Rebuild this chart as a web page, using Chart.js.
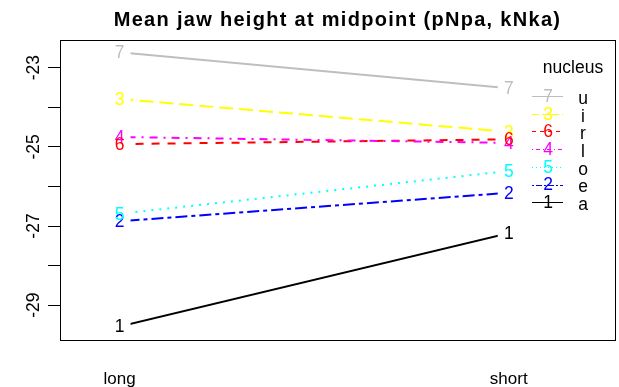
<!DOCTYPE html>
<html>
<head>
<meta charset="utf-8">
<script src="https://cdn.jsdelivr.net/npm/chart.js@4/dist/chart.umd.min.js"></script>
<style>
  html, body { margin: 0; padding: 0; background: #fff; }
  #wrap { width: 619px; height: 387px; }
</style>
</head>
<body>
<div id="wrap"><canvas id="c" width="619" height="387"></canvas></div>
<script>
// Trace factor levels and x-factor levels
const nuclei = ['a', 'e', 'i', 'l', 'o', 'r', 'u'];
const durations = ['long', 'short'];

// Mean jaw height per nucleus, for each duration
const longMeans  = [-29.54, -26.88, -23.79, -24.75, -26.69, -24.93, -22.61];
const shortMeans = [-27.18, -26.16, -24.62, -24.90, -25.61, -24.81, -23.52];

// Y axis ticks: a mark at every integer, a label at every other one
const yTickValues = [-29, -28, -27, -26, -25, -24, -23];
const yTickLabels = ['-29', '', '-27', '', '-25', '', '-23'];

const titleText = 'Mean jaw height at midpoint (pNpa, kNka)';
const legendTitle = 'nucleus';

// Styles (R-like palette 1..7 and line types)
const seriesColors = ['#000000', '#0000ff', '#ffff00', '#ff00ff', '#00ffff', '#ff0000', '#bebebe'];
const seriesDash   = [[], [4, 4, 12, 4], [14, 6], [2, 6, 8, 6], [2, 6], [8, 8], []];
const legendDash   = [[], [2, 2, 6, 2], [7, 3], [1, 3, 4, 3], [1, 3], [4, 4], []];
const FONT = '"Liberation Sans", Arial, Helvetica, sans-serif';

const datasets = nuclei.map((n, i) => ({
  label: n,
  data: durations.map((d, j) => ({ x: j + 1, y: (j === 0 ? longMeans : shortMeans)[i] })),
  borderColor: seriesColors[i],
  backgroundColor: seriesColors[i],
  borderWidth: 2,
  borderDash: seriesDash[i],
  pointRadius: 0,
  tension: 0,
  fill: false
}));

// Leave a small gap between each line and the digits at its ends
const gapPlugin = {
  id: 'gap',
  beforeDatasetDraw(chart) {
    const xs = chart.scales.x;
    const a = xs.getPixelForValue(1) + 11;
    const b = xs.getPixelForValue(2) - 11;
    const ctx = chart.ctx;
    ctx.save();
    ctx.beginPath();
    ctx.rect(a, chart.chartArea.top, b - a, chart.chartArea.bottom - chart.chartArea.top);
    ctx.clip();
  },
  afterDatasetDraw(chart) {
    chart.ctx.restore();
  }
};

// Digits marking each point, box, title, y labels and legend
const decorPlugin = {
  id: 'decor',
  afterDatasetsDraw(chart) {
    const ctx = chart.ctx;
    ctx.save();
    ctx.font = '17.5px ' + FONT;
    ctx.textAlign = 'center';
    ctx.textBaseline = 'middle';
    chart.data.datasets.forEach((ds, i) => {
      const meta = chart.getDatasetMeta(i);
      ctx.fillStyle = seriesColors[i];
      meta.data.forEach(pt => {
        ctx.fillText(String(i + 1), pt.x, pt.y + 1);
      });
    });
    ctx.restore();
  },
  afterDraw(chart) {
    const ctx = chart.ctx;
    const area = chart.chartArea;
    ctx.save();
    // plot box
    ctx.strokeStyle = '#000';
    ctx.lineWidth = 1;
    ctx.strokeRect(Math.round(area.left) + 0.5, Math.round(area.top) + 0.5,
      Math.round(area.right - area.left), Math.round(area.bottom - area.top));

    // title
    ctx.fillStyle = '#000';
    ctx.font = 'bold 20px ' + FONT;
    ctx.textAlign = 'center';
    ctx.textBaseline = 'middle';
    ctx.letterSpacing = '1.3px';
    ctx.fillText(titleText, (area.left + area.right) / 2, 20);
    ctx.letterSpacing = '0px';

    // y tick labels, rotated
    const ys = chart.scales.y;
    ctx.font = '17.5px ' + FONT;
    yTickValues.forEach((v, k) => {
      if (!yTickLabels[k]) return;
      const py = ys.getPixelForValue(v);
      ctx.save();
      ctx.translate(33, py);
      ctx.rotate(-Math.PI / 2);
      ctx.textAlign = 'center';
      ctx.textBaseline = 'middle';
      ctx.fillText(yTickLabels[k], 0, 1);
      ctx.restore();
    });

    // legend, ordered by the last x level
    const order = nuclei.map((n, i) => i).sort((p, q) => shortMeans[q] - shortMeans[p]);
    ctx.textAlign = 'center';
    ctx.textBaseline = 'middle';
    ctx.fillText(legendTitle, 573, 68);
    order.forEach((i, r) => {
      const y = 96 + r * 17.7;
      ctx.beginPath();
      ctx.setLineDash(legendDash[i]);
      ctx.strokeStyle = seriesColors[i];
      ctx.lineWidth = 1;
      ctx.moveTo(532, Math.round(y) + 0.5);
      ctx.lineTo(563, Math.round(y) + 0.5);
      ctx.stroke();
      ctx.setLineDash([]);
      ctx.fillStyle = seriesColors[i];
      ctx.fillText(String(i + 1), 548, y + 1);
      ctx.fillStyle = '#000';
      ctx.fillText(nuclei[i], 583, y + 3);
    });
    ctx.restore();
  }
};

new Chart(document.getElementById('c'), {
  type: 'line',
  data: { datasets },
  options: {
    responsive: false,
    animation: false,
    events: [],
    layout: { padding: { top: 40, right: 4, left: 0, bottom: 0 } },
    plugins: { legend: { display: false }, title: { display: false }, tooltip: { enabled: false } },
    scales: {
      x: {
        type: 'linear',
        min: 0.847,
        max: 2.273,
        afterBuildTicks: s => { s.ticks = durations.map((d, j) => ({ value: j + 1 })); },
        afterFit: s => { s.height = 47; },
        ticks: {
          autoSkip: false,
          maxRotation: 0,
          padding: 29,
          color: '#000',
          font: { family: FONT, size: 17 },
          callback: (v) => durations[Math.round(v) - 1] || ''
        },
        grid: { display: false, drawTicks: false },
        border: { display: false }
      },
      y: {
        type: 'linear',
        min: -29.88,
        max: -22.30,
        afterBuildTicks: s => { s.ticks = yTickValues.map(v => ({ value: v })); },
        afterFit: s => { s.width = 60; },
        ticks: { display: false },
        grid: { drawOnChartArea: false, drawTicks: true, tickLength: 12, color: '#000', lineWidth: 1 },
        border: { display: false }
      }
    }
  },
  plugins: [gapPlugin, decorPlugin]
});
</script>
</body>
</html>
